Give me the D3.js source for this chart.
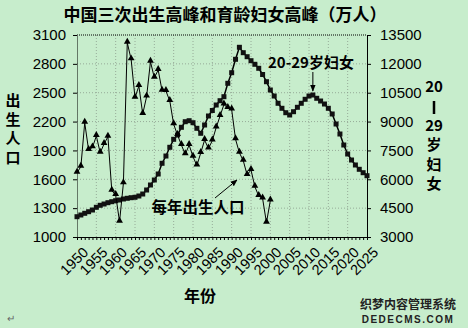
<!DOCTYPE html>
<html>
<head>
<meta charset="utf-8">
<script src="https://cdn.jsdelivr.net/npm/d3@7/dist/d3.min.js"></script>
<style>
  body { margin: 0; background: #c7edcc; }
  svg { display: block; font-family: "Liberation Sans", Arial, sans-serif; }
  .cjk { font-family: "Noto Sans CJK SC", sans-serif; font-weight: bold; }
</style>
</head>
<body>
<div id="chart"></div>
<script>
// data (万人)
const startYear = 1950;
const births = [
  1668, 1731, 2188, 1904, 1932, 2050, 1876, 1967, 2043, 1481,
  1437, 1159, 1558, 3020, 2847, 2448, 2570, 2279, 2459, 2822,
  2656, 2736, 2521, 2518, 2414, 2172, 2060, 1956, 1860, 1956,
  1835, 1743, 1873, 2008, 1920, 2003, 2138, 2258, 2377, 2341,
  2325, 2016, 1876, 1793, 1645, 1697, 1523, 1426, 1400, 1149, 1379
];
const women = [
  4055, 4144, 4232, 4315, 4403, 4544, 4648, 4715, 4783, 4835,
  4887, 4923, 4975, 5012, 5043, 5064, 5131, 5235, 5443, 5703,
  5963, 6275, 6831, 7210, 7663, 8078, 8302, 8702, 8993, 9045,
  8941, 8650, 8390, 8822, 9290, 9575, 9861, 10085, 10293, 10989,
  11540, 12237, 12861, 12580, 12372, 12164, 11977, 11769, 11447, 11072,
  10641, 10329, 9950, 9690, 9461, 9342, 9513, 9742, 9950, 10158,
  10329, 10381, 10210, 10069, 9913, 9690, 9394, 8874, 8354, 7782,
  7314, 7002, 6743, 6519, 6342, 6186
];
const leftTicks = [1000, 1300, 1600, 1900, 2200, 2500, 2800, 3100];
const rightTicks = [3000, 4500, 6000, 7500, 9000, 10500, 12000, 13500];
const yearLabels = d3.range(1950, 2026, 5);
const rightTitle = ['20', '|', '29', '岁', '妇', '女'];
const leftTitle = ['出', '生', '人', '口'];

const width = 468, height = 328;
const plot = { left: 77, right: 367, top: 35, bottom: 237 };

const svg = d3.select('#chart').append('svg')
  .attr('width', width)
  .attr('height', height);

svg.append('rect').attr('width', width).attr('height', height).attr('fill', '#c7edcc');

const x = d3.scaleLinear().domain([1950, 2025]).range([plot.left, plot.right]);
const yL = d3.scaleLinear().domain([1000, 3100]).range([plot.bottom, plot.top]);
const yR = d3.scaleLinear().domain([3000, 13500]).range([plot.bottom, plot.top]);

// arrow marker
svg.append('defs').append('marker')
  .attr('id', 'arrow')
  .attr('viewBox', '0 -5 10 10')
  .attr('refX', 9)
  .attr('refY', 0)
  .attr('markerWidth', 7)
  .attr('markerHeight', 7)
  .attr('markerUnits', 'userSpaceOnUse')
  .attr('orient', 'auto')
  .append('path')
  .attr('d', 'M0,-4L10,0L0,4Z')
  .attr('fill', '#000');

// grid
const grid = svg.append('g').attr('stroke', '#8a9a8c').attr('stroke-width', 0.8).attr('stroke-dasharray', '1,2');
grid.selectAll('.gx')
  .data(yearLabels.filter(d => d > 1950 && d < 2025))
  .enter().append('line')
  .attr('x1', d => x(d)).attr('x2', d => x(d))
  .attr('y1', plot.top).attr('y2', plot.bottom);
grid.selectAll('.gy')
  .data(leftTicks.filter(d => d > 1000 && d < 3100))
  .enter().append('line')
  .attr('x1', plot.left).attr('x2', plot.right)
  .attr('y1', d => yL(d)).attr('y2', d => yL(d));

// top border (dotted)
svg.append('line')
  .attr('x1', plot.left).attr('x2', plot.right)
  .attr('y1', plot.top).attr('y2', plot.top)
  .attr('stroke', '#000').attr('stroke-width', 1).attr('stroke-dasharray', '1,1');

// left axis
const axL = svg.append('g')
  .attr('transform', `translate(${plot.left},0)`)
  .call(d3.axisLeft(yL).tickValues(leftTicks).tickFormat(d3.format('d'))
    .tickSize(4).tickPadding(7).tickSizeOuter(0));
axL.select('.domain').attr('stroke-dasharray', '1,1');
axL.selectAll('text').attr('font-size', 15).attr('fill', '#000');

// right axis
const axR = svg.append('g')
  .attr('transform', `translate(${plot.right},0)`)
  .call(d3.axisRight(yR).tickValues(rightTicks).tickFormat(d3.format('d'))
    .tickSize(4).tickPadding(9).tickSizeOuter(0));
axR.selectAll('text').attr('font-size', 15).attr('fill', '#000');

// bottom axis with a tick every year
svg.append('g')
  .attr('transform', `translate(0,${plot.bottom})`)
  .call(d3.axisBottom(x).tickValues(d3.range(1950, 2026)).tickSize(3).tickSizeOuter(0).tickFormat(''));

svg.append('g').selectAll('text')
  .data(yearLabels)
  .enter().append('text')
  .attr('transform', d => `translate(${x(d) + 5},${plot.bottom + 9}) rotate(-45)`)
  .attr('text-anchor', 'end')
  .attr('dy', '0.7em')
  .attr('font-size', 14.5)
  .text(d => d);

// series: women 20-29 (squares, right axis)
const womenPts = women.map((v, i) => ({ year: startYear + i, v }));
svg.append('path')
  .datum(womenPts)
  .attr('fill', 'none')
  .attr('stroke', '#000')
  .attr('stroke-width', 1.5)
  .attr('d', d3.line().x(d => x(d.year)).y(d => yR(d.v)));
svg.append('g').selectAll('path')
  .data(womenPts)
  .enter().append('path')
  .attr('transform', d => `translate(${x(d.year)},${yR(d.v)})`)
  .attr('d', d3.symbol(d3.symbolSquare, 25))
  .attr('fill', '#111');

// series: births (triangles, left axis)
const birthPts = births.map((v, i) => ({ year: startYear + i, v }));
svg.append('path')
  .datum(birthPts)
  .attr('fill', 'none')
  .attr('stroke', '#000')
  .attr('stroke-width', 1)
  .attr('d', d3.line().x(d => x(d.year)).y(d => yL(d.v)));
svg.append('g').selectAll('path')
  .data(birthPts)
  .enter().append('path')
  .attr('transform', d => `translate(${x(d.year)},${yL(d.v) - 1})`)
  .attr('d', d3.symbol(d3.symbolTriangle, 20))
  .attr('fill', '#000');

// title
svg.append('text')
  .attr('class', 'cjk')
  .attr('x', 225).attr('y', 21)
  .attr('text-anchor', 'middle')
  .attr('font-size', 17)
  .text('中国三次出生高峰和育龄妇女高峰（万人）');

// axis titles
svg.append('g').selectAll('text')
  .data(leftTitle)
  .enter().append('text')
  .attr('class', 'cjk')
  .attr('x', 13)
  .attr('y', (d, i) => 106 + i * 19)
  .attr('text-anchor', 'middle')
  .attr('font-size', 15)
  .text(d => d);

const rt = svg.append('g');
rt.selectAll('text')
  .data(rightTitle)
  .enter().filter(d => d !== '|').append('text')
  .attr('class', 'cjk')
  .attr('x', 434)
  .attr('y', d => 92 + rightTitle.indexOf(d) * 19.4)
  .attr('text-anchor', 'middle')
  .attr('font-size', 15)
  .text(d => d);
// the dash between 20 and 29 is set vertically
rt.append('line')
  .attr('x1', 434).attr('x2', 434)
  .attr('y1', 101).attr('y2', 114)
  .attr('stroke', '#000').attr('stroke-width', 2.5);

svg.append('text')
  .attr('class', 'cjk')
  .attr('x', 200).attr('y', 302)
  .attr('text-anchor', 'middle')
  .attr('font-size', 16)
  .text('年份');

// annotations
svg.append('text')
  .attr('class', 'cjk')
  .attr('x', 311).attr('y', 68)
  .attr('text-anchor', 'middle')
  .attr('font-size', 15)
  .text('20-29岁妇女');
svg.append('line')
  .attr('x1', x(2011)).attr('y1', 72)
  .attr('x2', x(2011)).attr('y2', 91)
  .attr('stroke', '#000').attr('marker-end', 'url(#arrow)');

svg.append('text')
  .attr('class', 'cjk')
  .attr('x', 198).attr('y', 213)
  .attr('text-anchor', 'middle')
  .attr('font-size', 15.5)
  .text('每年出生人口');
svg.append('line')
  .attr('x1', 215).attr('y1', 198)
  .attr('x2', 237).attr('y2', 180)
  .attr('stroke', '#000').attr('marker-end', 'url(#arrow)');

// watermark and stray mark from the source page
svg.append('text')
  .attr('class', 'cjk')
  .attr('x', 408).attr('y', 309)
  .attr('text-anchor', 'middle')
  .attr('font-size', 12)
  .attr('fill', '#222')
  .text('织梦内容管理系统');
svg.append('text')
  .attr('x', 408).attr('y', 323)
  .attr('text-anchor', 'middle')
  .attr('font-size', 10)
  .attr('font-weight', 'bold')
  .attr('letter-spacing', 1.5)
  .attr('fill', '#222')
  .text('DEDECMS.COM');
svg.append('text')
  .attr('x', 11).attr('y', 322)
  .attr('text-anchor', 'middle')
  .attr('font-size', 10)
  .attr('fill', '#666')
  .text('↵');
</script>
</body>
</html>
